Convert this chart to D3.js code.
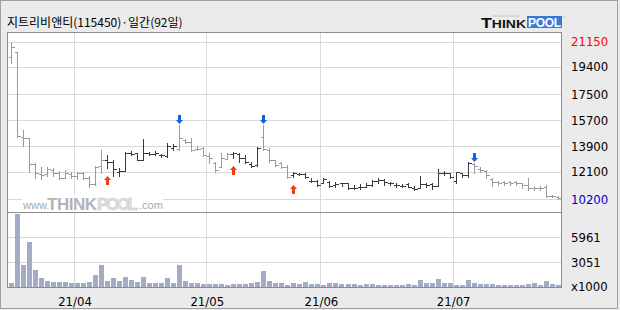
<!DOCTYPE html>
<html><head><meta charset="utf-8">
<script src="https://cdn.jsdelivr.net/npm/d3@7"></script>
<style>body{margin:0;background:#ebebeb}svg{display:block}</style>
</head><body><svg id="c" width="620" height="310"></svg>
<script>
const title = "지트리비앤티(115450)·일간(92일)";
const opens  = [20100,20400,14550,14430,12670,11950,11930,12230,12050,11700,11930,11820,12000,11700,11240,12500,12930,12800,12100,12200,13450,13400,12950,13400,13350,13300,13200,13750,13700,14300,14150,13700,13740,13200,12700,12460,13000,13330,13380,13100,12650,12550,14500,13650,12900,12750,12450,11880,11980,11950,11450,11450,11350,11400,11200,11330,11300,10980,11050,11080,11200,11500,11550,11350,11170,11150,11260,11000,11000,11250,11280,11150,12050,12000,11500,12000,11900,12650,12300,12200,11600,11400,11380,11380,11380,11300,11200,11000,11000,11050,10400,10350];
const highs  = [21150,20400,15000,14450,12700,12450,12430,12400,12150,12230,12100,12100,12100,11800,12500,13650,13250,12950,12350,13500,13550,13450,14360,13500,13580,13350,14090,14020,15380,14380,14430,13900,13810,13390,12810,13420,13390,13500,13440,13270,12810,13800,15380,13740,12950,12810,12580,12110,12050,12000,11650,11540,11650,11500,11420,11350,11300,11190,11250,11300,11540,11650,11600,11420,11300,11260,11300,11120,11820,11350,11350,12280,12190,12050,12120,12000,12810,12750,12460,12230,11650,11490,11490,11490,11490,11350,11650,11120,11120,11190,10500,10420];
const lows   = [19700,14500,13880,12100,11650,11600,11820,11800,11600,11650,11650,11630,11600,11070,11170,12020,12350,11800,11850,12150,13280,12900,12930,13270,13250,13160,13160,13620,13650,14090,13580,13620,13200,12700,12120,12420,12970,13050,12810,12700,12420,12510,13650,12810,12500,12350,11650,11770,11880,11650,11420,11120,11300,11073,11030,11120,10890,10950,10950,11070,11120,11300,11190,11190,11070,11030,11030,10850,10960,11070,10890,11120,11880,11650,11300,11770,11770,12000,12115,11650,11120,11190,11190,11190,11190,10960,10840,10840,10840,10330,10330,10200];
const closes = [20800,14600,14450,12660,12000,11880,12280,12050,11700,12000,11820,12000,11700,11240,12460,12950,12800,12300,12150,13430,13380,12950,13400,13380,13420,13250,13900,13880,14450,14150,13650,13700,13250,13040,12250,13040,13340,13400,13100,12800,12540,13780,13680,12900,12550,12450,11780,12000,11950,11760,11460,11200,11600,11150,11250,11330,11000,10980,11080,11200,11480,11550,11400,11300,11160,11120,11080,10900,11250,11200,11100,12050,12050,11720,12070,11900,12740,12480,12250,11900,11420,11350,11350,11350,11330,11200,11000,11000,10980,10450,10400,10300];
const volumes = [675,8672,2735,5413,2153,1222,908,791,791,791,605,675,675,791,1571,2735,908,1222,908,1377,989,791,1377,605,605,605,1260,675,2735,908,675,605,524,524,524,524,442,524,524,524,675,791,2072,908,605,605,442,675,524,757,524,524,442,605,605,524,524,524,442,524,524,442,442,442,442,442,524,442,989,605,605,1106,675,605,442,442,989,675,524,524,524,442,442,442,442,442,524,605,442,908,524,442];
const buySignals = [16, 37, 47];
const sellSignals = [28, 42, 77];
const priceTicks = [21150, 19400, 17500, 15700, 13900, 12100, 10200];
const volumeTicks = [5961, 3051];
const monthStarts = [11, 33, 52, 74];
const monthLabels = ["21/04", "21/05", "21/06", "21/07"];

const svg = d3.select("#c");
const L = 7, R = 562, T = 32, B = 288, SEP = 212.5;
const numFont = "'Liberation Sans Narrow','DejaVu Sans Condensed',sans-serif";

const n = closes.length;
const x = d3.scaleBand().domain(d3.range(n)).range([7.9, 560.9]);
const cx = i => Math.round(x(i) + x.bandwidth() / 2) + 0.5;
const y = d3.scaleLinear().domain([10200, 21150]).range([199.3, 41.7]);
const yv = d3.scaleLinear().domain([0, 5961]).range([288.5, 237.3]);

svg.append("rect").attr("x", 0.5).attr("y", 0.5).attr("width", 617).attr("height", 308)
  .attr("fill", "#ebebeb").attr("stroke", "#a0a0a0");
svg.append("rect").attr("x", L).attr("y", T).attr("width", R - L).attr("height", B - T).attr("fill", "#fff");

const g = svg.append("g").attr("shape-rendering", "crispEdges");
g.selectAll(".hp").data(priceTicks).join("line")
  .attr("x1", L).attr("x2", R).attr("y1", d => Math.round(y(d)) + 0.5).attr("y2", d => Math.round(y(d)) + 0.5)
  .attr("stroke", "#dadada");
g.selectAll(".hv").data(volumeTicks).join("line")
  .attr("x1", L).attr("x2", R).attr("y1", d => Math.round(yv(d)) + 0.5).attr("y2", d => Math.round(yv(d)) + 0.5)
  .attr("stroke", "#dadada");
g.selectAll(".vm").data(monthStarts).join("line")
  .attr("x1", d => Math.round(x(d)) + 0.5).attr("x2", d => Math.round(x(d)) + 0.5)
  .attr("y1", T).attr("y2", B).attr("stroke", "#dadada");

const wm = svg.append("g");
wm.append("rect").attr("x", 22).attr("y", 195).attr("width", 141).attr("height", 16).attr("fill", "#fff");
wm.append("text").attr("x", 23).attr("y", 209).attr("font-family", "Arial, 'Liberation Sans', sans-serif")
  .attr("font-size", 11).attr("fill", "#a8a8a8").text("www.");
wm.append("text").attr("x", 47).attr("y", 209.5).attr("font-family", "Arial, 'Liberation Sans', sans-serif")
  .attr("font-weight", "bold").attr("font-size", 17).attr("fill", "#b4b4b4").attr("textLength", 50).text("THINK");
wm.append("text").attr("x", 97).attr("y", 209.5).attr("font-family", "Arial, 'Liberation Sans', sans-serif")
  .attr("font-weight", "bold").attr("font-size", 17).attr("fill", "#e2e2e2").attr("stroke", "#c8c8c8").attr("stroke-width", 0.6)
  .attr("textLength", 41).text("POOL");
wm.append("text").attr("x", 139).attr("y", 209).attr("font-family", "Arial, 'Liberation Sans', sans-serif")
  .attr("font-size", 11).attr("fill", "#a8a8a8").text(".com");

svg.append("g").attr("shape-rendering", "crispEdges").selectAll("rect").data(volumes).join("rect")
  .attr("x", (d, i) => Math.round(x(i)) + 0.5).attr("width", 5)
  .attr("y", d => Math.round(yv(d))).attr("height", d => 288 - Math.round(yv(d)))
  .attr("fill", "#a4abc4");

let state = 0;
const cols = closes.map((c, i) => {
  if (buySignals.includes(i)) state = 1;
  if (sellSignals.includes(i)) state = 0;
  return state ? "#3a3a3a" : "#9a9a9a";
});

const og = svg.append("g").attr("shape-rendering", "crispEdges");
const bars = og.selectAll("g").data(closes).join("g");
bars.append("line").attr("x1", (d, i) => cx(i)).attr("x2", (d, i) => cx(i))
  .attr("y1", (d, i) => Math.round(y(highs[i]))).attr("y2", (d, i) => Math.round(y(lows[i])) + 1)
  .attr("stroke", (d, i) => cols[i]);
bars.append("line").attr("x1", (d, i) => cx(i) - 2.5).attr("x2", (d, i) => cx(i))
  .attr("y1", (d, i) => Math.round(y(opens[i])) + 0.5).attr("y2", (d, i) => Math.round(y(opens[i])) + 0.5)
  .attr("stroke", (d, i) => cols[i]);
bars.append("line").attr("x1", (d, i) => cx(i)).attr("x2", (d, i) => cx(i) + 3)
  .attr("y1", (d, i) => Math.round(y(closes[i])) + 0.5).attr("y2", (d, i) => Math.round(y(closes[i])) + 0.5)
  .attr("stroke", (d, i) => cols[i]);

const up = (px, py) => `M${px},${py} L${px + 3.5},${py + 4} L${px + 1.5},${py + 4} L${px + 1.5},${py + 9} L${px - 1.5},${py + 9} L${px - 1.5},${py + 4} L${px - 3.5},${py + 4} Z`;
const down = (px, py) => `M${px},${py} L${px + 3.5},${py - 4} L${px + 1.5},${py - 4} L${px + 1.5},${py - 9} L${px - 1.5},${py - 9} L${px - 1.5},${py - 4} L${px - 3.5},${py - 4} Z`;
svg.append("g").selectAll("path").data(buySignals).join("path")
  .attr("d", i => up(cx(i), Math.round(y(lows[i])) + 8)).attr("fill", "#f03c14");
svg.append("g").selectAll("path").data(sellSignals).join("path")
  .attr("d", i => down(cx(i), Math.round(y(highs[i])) - 1)).attr("fill", "#1560e0");

const bg = svg.append("g").attr("shape-rendering", "crispEdges");
bg.append("rect").attr("x", L + 0.5).attr("y", T + 0.5).attr("width", R - L - 1).attr("height", B - T - 1)
  .attr("fill", "none").attr("stroke", "#8c8c8c");
bg.append("line").attr("x1", L).attr("x2", R).attr("y1", SEP).attr("y2", SEP).attr("stroke", "#8c8c8c");

svg.append("g").selectAll("text").data(priceTicks).join("text")
  .attr("x", 571).attr("y", d => y(d) + 4.5)
  .attr("font-family", numFont).attr("font-size", 13)
  .attr("fill", (d, i) => i === 0 ? "#ff0000" : (i === priceTicks.length - 1 ? "#0000c8" : "#000"))
  .text(d => d);
svg.append("g").selectAll("text").data(volumeTicks).join("text")
  .attr("x", 571).attr("y", d => yv(d) + 4.5)
  .attr("font-family", numFont).attr("font-size", 13).attr("fill", "#000").text(d => d);
svg.append("text").attr("x", 571).attr("y", 291).attr("font-family", numFont).attr("font-size", 13)
  .attr("fill", "#000").text("x1000");

svg.append("g").selectAll("text").data(monthStarts).join("text")
  .attr("x", d => x(d) + 1).attr("y", 306).attr("text-anchor", "middle")
  .attr("font-family", numFont).attr("font-size", 13).attr("fill", "#000")
  .text((d, i) => monthLabels[i]);

svg.append("text").attr("x", 7).attr("y", 27).attr("font-family", "'Noto Sans CJK KR', sans-serif")
  .attr("font-size", 12).attr("fill", "#000").text(title);

const lg = svg.append("g");
lg.append("rect").attr("x", 527).attr("y", 16).attr("width", 35).attr("height", 12).attr("fill", "#3a78d8");
lg.append("text").attr("x", 481).attr("y", 27.5).attr("font-family", "Arial, 'Liberation Sans', sans-serif")
  .attr("font-weight", "900").attr("fill", "#111").attr("textLength", 45).attr("lengthAdjust", "spacingAndGlyphs")
  .call(t => { t.append("tspan").attr("font-size", 14).text("T"); t.append("tspan").attr("font-size", 11).text("HINK"); });
lg.append("text").attr("x", 528).attr("y", 27).attr("font-family", "Arial, 'Liberation Sans', sans-serif")
  .attr("font-weight", "bold").attr("font-size", 12).attr("fill", "#fff").attr("textLength", 33).text("POOL");
lg.append("text").attr("x", 492).attr("y", 16.5).attr("font-family", "Arial, sans-serif").attr("font-size", 3.5)
  .attr("fill", "#bbb").text("Innovate Strategy");
lg.append("text").attr("x", 563).attr("y", 19).attr("font-family", "Arial, sans-serif").attr("font-size", 4)
  .attr("fill", "#aaa").text("®");
</script></body></html>
